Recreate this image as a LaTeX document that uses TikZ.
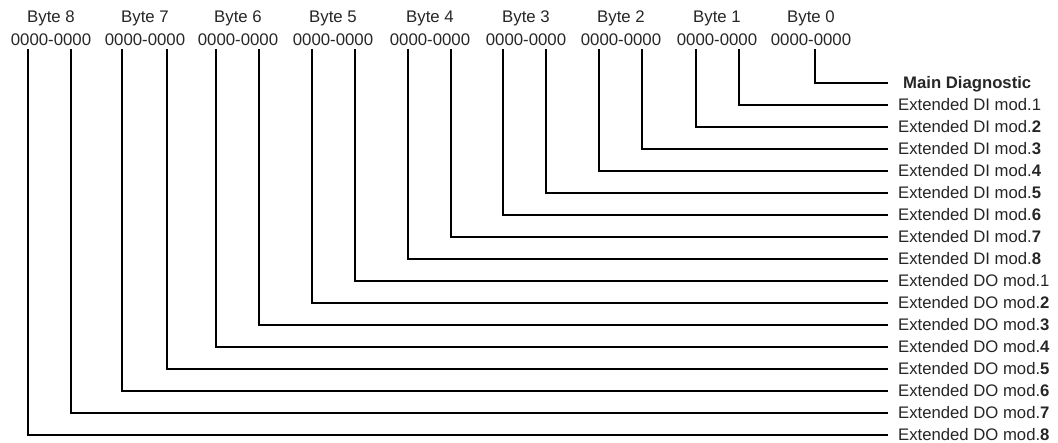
\documentclass[tikz,border=0pt]{standalone}
\usepackage{fontspec}
\setmainfont{Liberation Sans}
\definecolor{txt}{HTML}{262626}
\begin{document}
\begin{tikzpicture}[x=1pt,y=-1pt,
  conn/.style={line width=1.9pt, black},
  toplbl/.style={font=\fontsize{16.8}{18}\selectfont, text=txt, inner sep=0pt},
  modlbl/.style={font=\fontsize{16.7}{18}\selectfont, text=txt, anchor=west,
    inner xsep=10pt, inner ysep=0pt, text height=12pt, text depth=0pt}]
\useasboundingbox (0,0) rectangle (1058,443);
% byte headers
\foreach \n/\x in {8/51,7/145,6/238,5/333,4/430,3/526,2/621,1/717,0/811}{
  \node[toplbl] (b\n) at (\x,18) {Byte \n};
  \node[toplbl] (v\n) at (\x,39.5) {0000-0000};
}
% right-hand labels
\node[modlbl, inner xsep=15pt] (l0) at (888,83) {\textbf{Main Diagnostic}};
\foreach \i/\t/\d in {1/DI/1,2/DI/2,3/DI/3,4/DI/4,5/DI/5,6/DI/6,7/DI/7,8/DI/8,
                      9/DO/1,10/DO/2,11/DO/3,12/DO/4,13/DO/5,14/DO/6,15/DO/7,16/DO/8}{
  \ifnum\d=1
    \node[modlbl] (l\i) at (888,83+22*\i) {Extended \t\ mod.\d};
  \else
    \node[modlbl] (l\i) at (888,83+22*\i) {Extended \t\ mod.\textbf{\d}};
  \fi
}
% connector start points under the bit groups
\foreach \i/\x in {0/815,1/739,2/696,3/642,4/599,5/546,6/503,7/451,8/408,
                   9/355,10/312,11/259,12/216,13/167,14/122,15/71,16/28}{
  \coordinate (t\i) at (\x,49);
  \draw[conn] (t\i) |- (l\i.west);
}
\end{tikzpicture}
\end{document}
